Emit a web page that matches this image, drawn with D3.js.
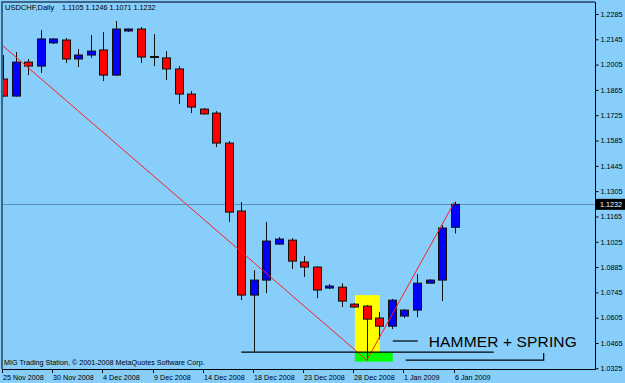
<!DOCTYPE html>
<html>
<head>
<meta charset="utf-8">
<script src="https://cdn.jsdelivr.net/npm/d3@7"></script>
<style>
  body { margin: 0; background: #87cefa; }
  text { font-family: 'Liberation Sans', Arial, sans-serif; }
</style>
</head>
<body>
<div id="chart"></div>
<script>
// daily bars, USDCHF
const dates = ['25 Nov', '26 Nov', '27 Nov', '28 Nov', '30 Nov', '1 Dec', '2 Dec', '3 Dec', '4 Dec', '5 Dec',
  '7 Dec', '8 Dec', '9 Dec', '10 Dec', '11 Dec', '12 Dec', '14 Dec', '15 Dec', '16 Dec', '17 Dec',
  '18 Dec', '19 Dec', '21 Dec', '22 Dec', '23 Dec', '24 Dec', '25 Dec', '26 Dec', '28 Dec', '29 Dec',
  '30 Dec', '31 Dec', '1 Jan', '2 Jan', '4 Jan', '5 Jan', '6 Jan']
const open = [1.1925, 1.1831, 1.2019, 1.1997, 1.2125, 1.2141, 1.2036, 1.2058, 1.2086, 1.1947,
  1.2191, 1.2202, 1.2050, 1.2042, 1.1981, 1.1842, 1.1759, 1.1737, 1.1571, 1.1195,
  1.0730, 1.0813, 1.1012, 1.1034, 1.0913, 1.0885, 1.0769, 1.0774, 1.0680, 1.0669,
  1.0603, 1.0558, 1.0614, 1.0647, 1.0796, 1.0813, 1.1105]
const high = [1.2058, 1.2075, 1.2036, 1.2196, 1.2150, 1.2152, 1.2091, 1.2169, 1.2185, 1.2246,
  1.2205, 1.2213, 1.2174, 1.2080, 1.1997, 1.1859, 1.1765, 1.1748, 1.1582, 1.1245,
  1.0868, 1.1134, 1.1051, 1.1045, 1.0946, 1.0890, 1.0791, 1.0796, 1.0686, 1.0675,
  1.0636, 1.0708, 1.0653, 1.0846, 1.0818, 1.1117, 1.1246]
const low = [1.1826, 1.1828, 1.1947, 1.1959, 1.2119, 1.2014, 1.1992, 1.2042, 1.1914, 1.1942,
  1.2185, 1.2014, 1.1997, 1.1920, 1.1787, 1.1737, 1.1730, 1.1549, 1.1134, 1.0702,
  1.0415, 1.0741, 1.1010, 1.0874, 1.0830, 1.0713, 1.0763, 1.0664, 1.0660, 1.0370,
  1.0486, 1.0542, 1.0603, 1.0608, 1.0796, 1.0697, 1.1071]
const close = [1.1831, 1.2019, 1.1997, 1.2147, 1.2147, 1.2036, 1.2058, 1.2080, 1.1947, 1.2202,
  1.2202, 1.2047, 1.2050, 1.1981, 1.1842, 1.1770, 1.1732, 1.1571, 1.1189, 1.0730,
  1.0813, 1.1029, 1.1040, 1.0918, 1.0885, 1.0758, 1.0780, 1.0697, 1.0664, 1.0597,
  1.0558, 1.0702, 1.0647, 1.0796, 1.0813, 1.1101, 1.1232]

const priceTicks = [1.2285, 1.2145, 1.2005, 1.1865, 1.1725, 1.1585, 1.1445, 1.1305,
  1.1165, 1.1025, 1.0885, 1.0745, 1.0605, 1.0465, 1.0325]
const dateTickIndex = [0, 4, 8, 12, 16, 20, 24, 28, 32, 36]
const dateTickLabels = ['25 Nov 2008', '30 Nov 2008', '4 Dec 2008', '9 Dec 2008', '14 Dec 2008',
  '18 Dec 2008', '23 Dec 2008', '28 Dec 2008', '1 Jan 2009', '6 Jan 2009']

// zigzag (bar index, price)
const zigIndex = [-3, 29, 36]
const zigPrice = [1.2288, 1.0370, 1.1246]

const lastPrice = 1.1232

const width = 625
const height = 383
const plot = { left: 2, right: 595, top: 2, bottom: 369 }

const bars = dates.map((d, i) => ({ i, date: d, o: open[i], h: high[i], l: low[i], c: close[i] }))

const x = d3.scaleLinear().domain([0, 36]).range([3, 454.6])
const y = d3.scaleLinear().domain([1.0325, 1.2285]).range([368.3, 14])

const svg = d3
  .select('#chart')
  .append('svg')
  .attr('width', width)
  .attr('height', height)

svg.append('rect')
  .attr('width', width)
  .attr('height', height)
  .attr('fill', '#87cefa')

svg.append('clipPath')
  .attr('id', 'clip')
  .append('rect')
  .attr('x', plot.left)
  .attr('y', plot.top)
  .attr('width', plot.right - plot.left)
  .attr('height', plot.bottom - plot.top)

const g = svg.append('g').attr('clip-path', 'url(#clip)')

// hammer highlight boxes
g.append('rect')
  .attr('x', x(28.05))
  .attr('y', y(1.0730))
  .attr('width', x(30.04) - x(28.05))
  .attr('height', y(1.0415) - y(1.0730))
  .attr('fill', '#ffff00')

g.append('rect')
  .attr('x', x(28.05))
  .attr('y', y(1.0415))
  .attr('width', x(31.07) - x(28.05))
  .attr('height', y(1.0362) - y(1.0415))
  .attr('fill', '#00ff00')

// last price line
g.append('line')
  .attr('x1', plot.left)
  .attr('x2', plot.right)
  .attr('y1', Math.round(y(lastPrice)) + 0.5)
  .attr('y2', Math.round(y(lastPrice)) + 0.5)
  .attr('stroke', '#5c8cb8')
  .attr('stroke-width', 1)

// candles
const candle = g.selectAll('.candle')
  .data(bars)
  .enter()
  .append('g')
  .attr('class', 'candle')

candle.append('line')
  .attr('x1', d => Math.round(x(d.i)) + 0.5)
  .attr('x2', d => Math.round(x(d.i)) + 0.5)
  .attr('y1', d => y(d.h))
  .attr('y2', d => y(d.l))
  .attr('stroke', '#111')
  .attr('stroke-width', 1)

candle.append('rect')
  .attr('x', d => Math.round(x(d.i)) - 3.5)
  .attr('y', d => y(Math.max(d.o, d.c)))
  .attr('width', 8)
  .attr('height', d => Math.max(1, Math.abs(y(d.o) - y(d.c))))
  .attr('fill', d => {
    if (d.c > d.o) return '#0000ff'
    else if (d.c < d.o) return '#ff0000'
    else return '#4a6e8e'
  })
  .attr('stroke', '#111')
  .attr('stroke-width', 1)

// zigzag line
g.append('path')
  .datum(zigIndex.map((d, k) => [d, zigPrice[k]]))
  .attr('d', d3.line().x(d => x(d[0])).y(d => y(d[1])))
  .attr('fill', 'none')
  .attr('stroke', '#ff2020')
  .attr('stroke-width', 1)

// support line under the 18 Dec low
g.append('line')
  .attr('x1', x(19))
  .attr('x2', x(39.12))
  .attr('y1', y(1.0415))
  .attr('y2', y(1.0415))
  .attr('stroke', '#000')
  .attr('stroke-width', 1.2)

// bracket under the label
g.append('path')
  .attr('d', d3.line()([
    [x(32.1), y(1.0370)],
    [x(43.1), y(1.0370)],
    [x(43.1), y(1.0409)]
  ]))
  .attr('fill', 'none')
  .attr('stroke', '#000')
  .attr('stroke-width', 1.2)

g.append('line')
  .attr('x1', x(31.07))
  .attr('x2', x(33.07))
  .attr('y1', y(1.0476))
  .attr('y2', y(1.0476))
  .attr('stroke', '#000')
  .attr('stroke-width', 1.2)

g.append('text')
  .attr('x', x(33.94))
  .attr('y', y(1.0442))
  .attr('font-size', 15.5)
  .attr('textLength', 148)
  .attr('fill', '#000')
  .text('HAMMER + SPRING')

// frame
svg.append('path')
  .attr('d', `M${plot.left},${plot.bottom}V${plot.top}H${plot.right}`)
  .attr('fill', 'none')
  .attr('stroke', '#3f6585')
  .attr('stroke-width', 2)

svg.append('path')
  .attr('d', `M${plot.left},${plot.bottom + 0.5}H${plot.right + 0.5}V${plot.top}`)
  .attr('fill', 'none')
  .attr('stroke', '#000')
  .attr('stroke-width', 1)

// price axis
const yAxis = svg.append('g')
  .attr('transform', `translate(${plot.right + 0.5},0)`)
  .call(d3.axisRight(y).tickValues(priceTicks).tickSize(3).tickPadding(2).tickFormat(d3.format('.4f')))

yAxis.select('.domain').remove()
yAxis.selectAll('line').attr('stroke', '#000')
yAxis.selectAll('text')
  .attr('font-size', 7.2)
  .attr('font-family', 'Liberation Sans, Arial, sans-serif')
  .attr('fill', '#000')

// last price box
svg.append('rect')
  .attr('x', plot.right + 1)
  .attr('y', y(lastPrice) - 5.5)
  .attr('width', 29)
  .attr('height', 11)
  .attr('fill', '#000')

svg.append('text')
  .attr('x', plot.right + 5)
  .attr('y', y(lastPrice) + 2.7)
  .attr('font-size', 7.2)
  .attr('fill', '#fff')
  .text(d3.format('.4f')(lastPrice))

// date axis
const xAxis = svg.append('g').attr('class', 'x-axis')

xAxis.selectAll('line')
  .data(dateTickIndex)
  .enter()
  .append('line')
  .attr('x1', d => Math.round(x(d)) - 0.5)
  .attr('x2', d => Math.round(x(d)) - 0.5)
  .attr('y1', plot.bottom)
  .attr('y2', plot.bottom + 4)
  .attr('stroke', '#000')

xAxis.selectAll('text')
  .data(dateTickIndex)
  .enter()
  .append('text')
  .attr('x', d => Math.round(x(d)))
  .attr('y', 380)
  .attr('font-size', 7.2)
  .attr('fill', '#000')
  .text((d, k) => dateTickLabels[k])

// header and footer
svg.append('text')
  .attr('x', 5)
  .attr('y', 10)
  .attr('font-size', 7.5)
  .attr('fill', '#000')
  .text('USDCHF,Daily')

svg.append('text')
  .attr('x', 62)
  .attr('y', 10)
  .attr('font-size', 7.2)
  .attr('fill', '#000')
  .text([open[36], high[36], low[36], close[36]].map(d3.format('.4f')).join(' '))

svg.append('text')
  .attr('x', 4)
  .attr('y', 365)
  .attr('font-size', 7.2)
  .attr('fill', '#000')
  .text('MIG Trading Station, © 2001-2008 MetaQuotes Software Corp.')
</script>
</body>
</html>
